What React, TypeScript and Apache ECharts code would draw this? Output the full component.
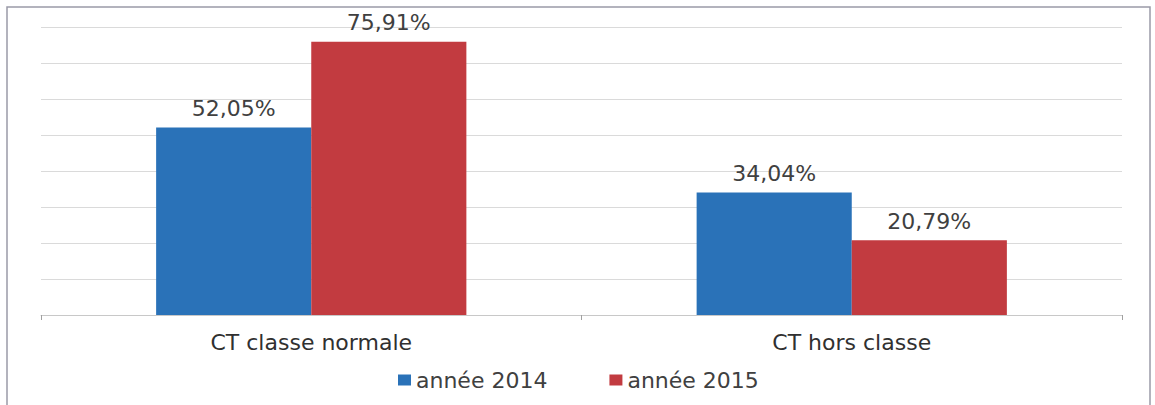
import React, { useEffect, useRef } from "react";
import * as echarts from "echarts";

const categories = ["CT classe normale", "CT hors classe"];
const seriesNames = ["année 2014", "année 2015"];
const values2014 = [52.05, 34.04];
const values2015 = [75.91, 20.79];
const colors = ["#2a72b8", "#c23b40"];

const fmt = (v: number) => v.toFixed(2).replace(".", ",") + "%";

export default function App() {
  const ref = useRef<HTMLDivElement>(null);
  useEffect(() => {
    if (!ref.current) return;
    const chart = echarts.init(ref.current, undefined, { renderer: "svg" });
    const font = "DejaVu Sans";
    const labelStyle = {
      show: true,
      position: "top" as const,
      distance: 8,
      fontFamily: font,
      fontSize: 22,
      color: "#404040",
      formatter: (p: any) => fmt(p.value),
    };
    chart.setOption({
      animation: false,
      backgroundColor: "#ffffff",
      grid: { left: 41, right: 33, top: 27, bottom: 90 },
      legend: {
        bottom: 9,
        left: 393,
        itemWidth: 13,
        itemHeight: 11,
        itemGap: 62,
        icon: "rect",
        textStyle: { fontFamily: font, fontSize: 22, color: "#404040" },
        data: seriesNames,
      },
      xAxis: {
        type: "category",
        data: categories,
        axisLine: { lineStyle: { color: "#c8c8c8" } },
        axisTick: { show: true, length: 5, lineStyle: { color: "#a0a0a0" } },
        axisLabel: {
          fontFamily: font,
          fontSize: 22,
          color: "#303030",
          margin: 16,
        },
      },
      yAxis: {
        type: "value",
        min: 0,
        max: 80,
        interval: 10,
        axisLabel: { show: false },
        axisLine: { show: false },
        axisTick: { show: false },
        splitLine: { lineStyle: { color: "#dadada", width: 1 } },
      },
      series: [
        {
          name: seriesNames[0],
          type: "bar",
          data: values2014,
          itemStyle: { color: colors[0] },
          barGap: "0%",
          barCategoryGap: "42.6%",
          label: labelStyle,
        },
        {
          name: seriesNames[1],
          type: "bar",
          data: values2015,
          itemStyle: { color: colors[1] },
          barGap: "0%",
          barCategoryGap: "42.6%",
          label: labelStyle,
        },
      ],
      graphic: [
        {
          type: "rect",
          shape: { x: 7, y: 7, width: 1143, height: 410 },
          style: { fill: "none", stroke: "#9a9aa8", lineWidth: 1.5 },
          silent: true,
          z: 100,
        },
      ],
    });
    return () => chart.dispose();
  }, []);
  return (
    <div
      ref={ref}
      style={{ position: "fixed", left: 0, top: 0, width: 1155, height: 405 }}
    />
  );
}
